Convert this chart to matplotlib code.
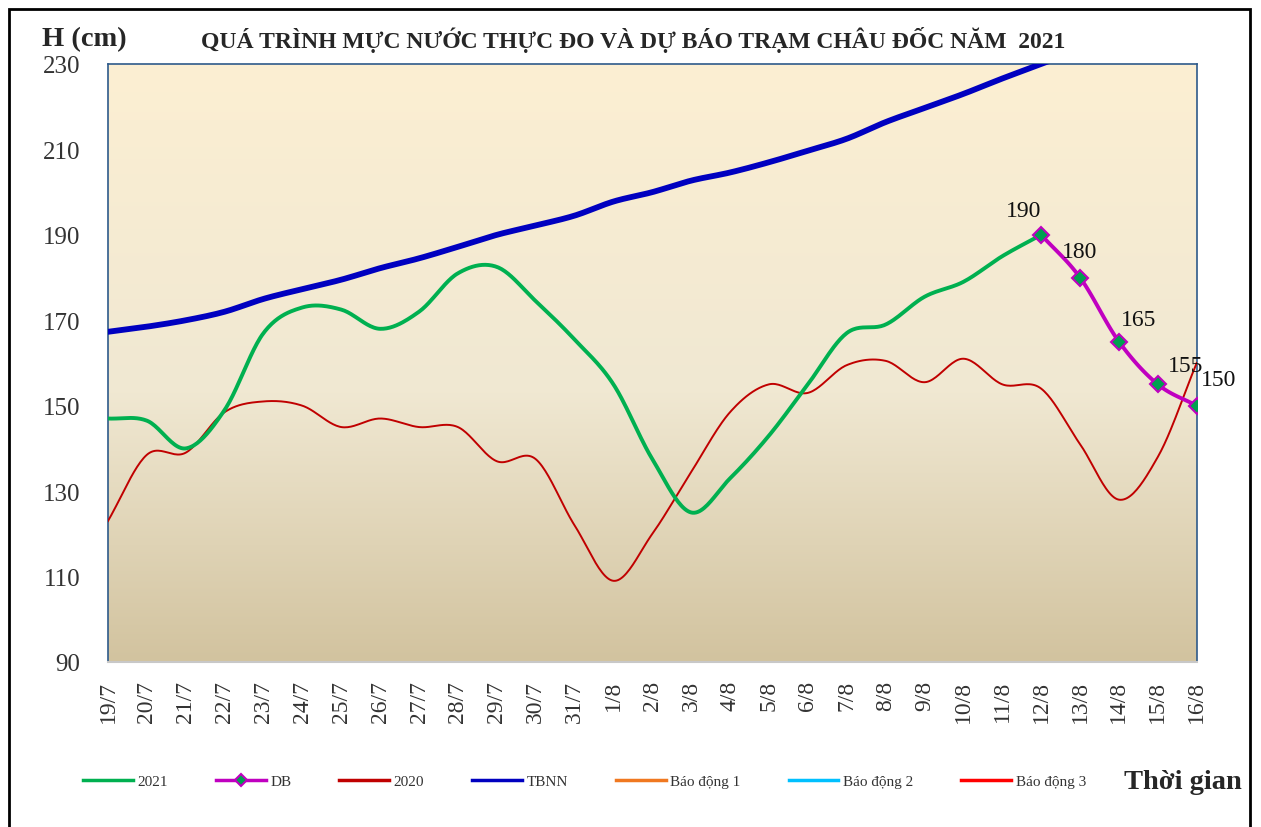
import matplotlib.pyplot as plt
import numpy as np
from matplotlib.colors import LinearSegmentedColormap
from matplotlib.patches import Rectangle

plt.rcParams['font.family'] = ['Liberation Serif', 'DejaVu Serif']

# === Data ===
dates = ['19/7', '20/7', '21/7', '22/7', '23/7', '24/7', '25/7', '26/7', '27/7', '28/7',
         '29/7', '30/7', '31/7', '1/8', '2/8', '3/8', '4/8', '5/8', '6/8', '7/8',
         '8/8', '9/8', '10/8', '11/8', '12/8', '13/8', '14/8', '15/8', '16/8']

h2021 = [147, 146.5, 140, 149, 167, 173, 172.5, 168, 172, 181,
         182.5, 174.5, 165.5, 155, 137.5, 125, 133, 143, 155, 167,
         169, 175.5, 179, 185, 190]

db = [190, 180, 165, 155, 150]   # du bao 12/8 -> 16/8
db_start = 24

h2020 = [123, 138.5, 139, 148.5, 151, 150, 145, 147, 145, 145,
         137, 137.5, 122, 109, 120, 134.5, 148.5, 155, 153, 159.5,
         160.5, 155.5, 161, 155, 154, 141, 128, 138, 160]

tbnn = [167.3, 168.5, 170, 172, 175, 177.3, 179.5, 182.2, 184.5, 187.2,
        190, 192.2, 194.5, 197.8, 200, 202.7, 204.6, 207, 209.7, 212.5,
        216.4, 219.7, 223, 226.6, 230, 233.5]

bao_dong = [350, 400, 450]  # muc bao dong 1, 2, 3 (ngoai khung hinh)


def smooth(x, y, n=24):
    # duong cong kieu Excel (Catmull-Rom)
    x = np.asarray(x, float)
    y = np.asarray(y, float)
    px = np.concatenate([[2 * x[0] - x[1]], x, [2 * x[-1] - x[-2]]])
    py = np.concatenate([[2 * y[0] - y[1]], y, [2 * y[-1] - y[-2]]])
    xs, ys = [], []
    t = np.linspace(0, 1, n, endpoint=False)
    for i in range(1, len(px) - 2):
        p0, p1, p2, p3 = [np.array([px[j], py[j]]) for j in range(i - 1, i + 3)]
        c1 = p1 + (p2 - p0) / 6
        c2 = p2 - (p3 - p1) / 6
        pts = (((1 - t) ** 3)[:, None] * p1 + (3 * (1 - t) ** 2 * t)[:, None] * c1
               + (3 * (1 - t) * t ** 2)[:, None] * c2 + (t ** 3)[:, None] * p2)
        xs.extend(pts[:, 0])
        ys.extend(pts[:, 1])
    xs.append(x[-1])
    ys.append(y[-1])
    return np.array(xs), np.array(ys)


fig = plt.figure(figsize=(12.61, 8.28), dpi=100)
ax = fig.add_axes([0.0856, 0.1993, 0.8634, 0.7222])

# nen gradient
cmap = LinearSegmentedColormap.from_list('bg', [(0, '#d2c39f'), (0.45, '#f0e8d2'), (1, '#fcefd3')])
grad = np.linspace(0, 1, 256).reshape(-1, 1)
ax.imshow(grad, aspect='auto', cmap=cmap, origin='lower',
          extent=[0, 1, 0, 1], transform=ax.transAxes, zorder=0)

xi = np.arange(len(dates))

l2021, = ax.plot(*smooth(xi[:len(h2021)], h2021), color='#00b050', lw=2.8, zorder=4, label='2021')
xd = xi[db_start:db_start + len(db)]
ax.plot(*smooth(xd, db), color='#c000c0', lw=2.8, zorder=5)
ldb, = ax.plot(xd, db, ls='none', marker='D', ms=8, mfc='#00a050', mec='#c000c0', mew=1.5, zorder=6)
l2020, = ax.plot(*smooth(xi, h2020), color='#c00000', lw=1.4, zorder=3, label='2020')
ltb, = ax.plot(*smooth(xi[:len(tbnn)], tbnn), color='#0000c0', lw=4.2, zorder=3, label='TBNN')
bd_colors = ['#f07820', '#00c0ff', '#ff0000']
lbd = []
for v, c in zip(bao_dong, bd_colors):
    ln, = ax.plot(xi, [v] * len(xi), color=c, lw=2)
    lbd.append(ln)

# nhan gia tri du bao
offsets = [(-18, 14), (0, 16), (20, 12), (28, 8), (22, 16)]
for x, v, off in zip(xd, db, offsets):
    ax.annotate(str(v), (x, v), xytext=off, textcoords='offset pixels',
                ha='center', va='bottom', fontsize=17, color='#111111', zorder=7)

ax.set_xlim(0, len(dates) - 1)
ax.set_ylim(90, 230)
ax.set_yticks(range(90, 231, 20))
ax.set_xticks(xi)
ax.set_xticklabels(dates, rotation=90, color='#333333')
ax.tick_params(axis='both', length=0, labelsize=18, colors='#333333')
ax.tick_params(axis='x', pad=13, labelsize=17)
ax.tick_params(axis='y', pad=20)
for s in ['left', 'right', 'top']:
    ax.spines[s].set_color('#2e5a8a')
    ax.spines[s].set_linewidth(1.2)
ax.spines['bottom'].set_color('#c8c8c8')
ax.spines['bottom'].set_linewidth(1.5)

fig.text(0.033, 0.952, 'H (cm)', fontsize=20.5, fontweight='bold', color='#262626', va='center')
fig.text(0.502, 0.952, 'QUÁ TRÌNH MỰC NƯỚC THỰC ĐO VÀ DỰ BÁO TRẠM CHÂU ĐỐC NĂM  2021',
         fontsize=17, fontweight='bold', color='#262626', ha='center', va='center')

handles = [l2021, ldb, l2020, ltb] + lbd
labels = ['2021', 'DB', '2020', 'TBNN', 'Báo động 1', 'Báo động 2', 'Báo động 3']
leg = fig.legend(handles, labels, loc='center left', bbox_to_anchor=(0.055, 0.055), ncol=7,
                 frameon=False, fontsize=11, handlelength=3.25, handletextpad=0.3,
                 columnspacing=3.15)
for t in leg.get_texts():
    t.set_color('#333333')
for h in leg.legend_handles:
    h.set_linewidth(2.5)
# marker DB trong chu giai
leg.legend_handles[1].set_linestyle('-')
leg.legend_handles[1].set_color('#c000c0')
leg.legend_handles[1].set_markersize(6)

fig.text(0.985, 0.055, 'Thời gian', fontsize=20.5, fontweight='bold', color='#262626',
         ha='right', va='center')

# khung ngoai
fig.patches.append(Rectangle((0.007, -0.05), 0.984, 1.038, transform=fig.transFigure,
                             fill=False, edgecolor='black', lw=2))

plt.savefig('out.png', dpi=100)
